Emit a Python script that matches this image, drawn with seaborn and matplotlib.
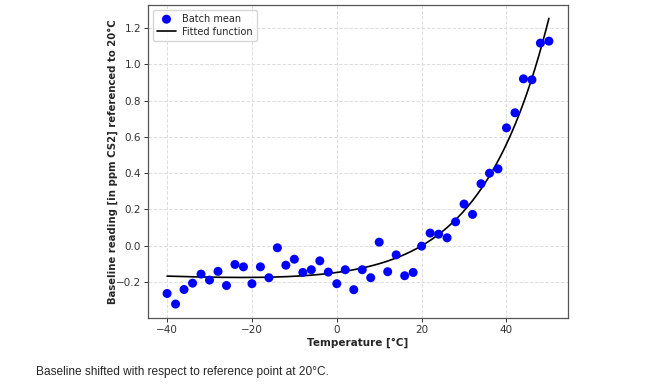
import numpy as np
import pandas as pd
import matplotlib
matplotlib.use("Agg")
import matplotlib.pyplot as plt
import seaborn as sns

# Batch means
temperature = [-40, -38, -36, -34, -32, -30, -28, -26, -24, -22, -20, -18, -16, -14,
               -12, -10, -8, -6, -4, -2, 0, 2, 4, 6, 8, 10, 12, 14, 16, 18, 20, 22,
               24, 26, 28, 30, 32, 34, 36, 38, 40, 42, 44, 46, 48, 50]
batch_mean = [-0.263, -0.321, -0.241, -0.206, -0.156, -0.189, -0.141, -0.219, -0.103,
              -0.116, -0.209, -0.116, -0.176, -0.011, -0.107, -0.074, -0.147, -0.132,
              -0.083, -0.145, -0.209, -0.132, -0.242, -0.132, -0.176, 0.020, -0.143,
              -0.050, -0.165, -0.147, -0.002, 0.070, 0.064, 0.044, 0.132, 0.230, 0.173,
              0.342, 0.400, 0.424, 0.650, 0.733, 0.920, 0.915, 1.117, 1.128]

# Fitted function parameters: a*exp(b*T) + c + d*T
fit_a = 0.0686
fit_b = 0.062
fit_c = -0.2156
fit_d = -0.00107

x_ticks = [-40, -20, 0, 20, 40]
y_ticks = [-0.2, 0.0, 0.2, 0.4, 0.6, 0.8, 1.0, 1.2]

sns.set_style("ticks")
plt.rcParams['font.family'] = ['DejaVu Sans']

fig = plt.figure(figsize=(6.53, 3.89), dpi=100)
ax = fig.add_axes([148/653, 1-318/389, 420/653, 313/389])

df = pd.DataFrame({"T": temperature, "y": batch_mean})
t_fit = np.linspace(min(temperature), max(temperature), 300)
df_fit = pd.DataFrame({"T": t_fit,
                       "y": fit_a*np.exp(fit_b*t_fit) + fit_c + fit_d*t_fit})

sns.scatterplot(data=df, x="T", y="y", ax=ax, color="#0000ff", s=42,
                edgecolor="none", label="Batch mean", zorder=3)
sns.lineplot(data=df_fit, x="T", y="y", ax=ax, color="black", lw=1.2,
             label="Fitted function", zorder=2)

ax.set_xlim(-44.5, 54.5)
ax.set_ylim(-0.398, 1.327)
ax.set_xticks(x_ticks)
ax.set_yticks(y_ticks)
ax.set_yticklabels([f"{v:.1f}".replace("-", "\u2212") for v in y_ticks])
ax.grid(True, linestyle="--", color="#dddddd", linewidth=0.7)
ax.tick_params(labelsize=7.5, colors="#333333", length=3, width=0.7, pad=2)
for s in ax.spines.values():
    s.set_color("#555555")
    s.set_linewidth(0.9)

ax.set_xlabel("Temperature [°C]", fontsize=7.5, fontweight="bold", labelpad=2)
ax.set_ylabel("Baseline reading [in ppm CS2] referenced to 20°C", fontsize=7.3,
              fontweight="bold", labelpad=-1.5)

leg = ax.legend(loc="upper left", fontsize=7, frameon=True, borderpad=0.4,
                handlelength=2.0, labelspacing=0.3, handletextpad=0.6)
leg.get_frame().set_edgecolor("#cccccc")

fig.text(36/653, 1-372/389, "Baseline shifted with respect to reference point at 20°C.",
         fontsize=8.6, family="Liberation Sans", va="center", ha="left")

fig.savefig("out.png", dpi=100)
